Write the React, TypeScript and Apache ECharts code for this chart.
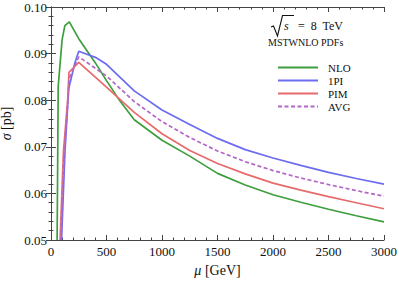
import React, { useEffect, useRef } from "react";
import * as echarts from "echarts";

// μ [GeV] sample points and σ [pb] values
const nloMu = [55, 65, 100, 125, 165, 250, 400, 500, 625, 750, 1000, 1250, 1500, 1750, 2000, 2250, 2500, 2750, 3000];
const nloVal = [0.05, 0.083, 0.093, 0.096, 0.0968, 0.0932, 0.088, 0.0842, 0.0797, 0.0758, 0.0714, 0.068, 0.0643, 0.0618, 0.0597, 0.0581, 0.0566, 0.0552, 0.0539];

const onePiMu = [95, 126, 160, 215, 250, 400, 500, 750, 1000, 1250, 1500, 1750, 2000, 2250, 2500, 2750, 3000];
const onePiVal = [0.05, 0.069, 0.0825, 0.088, 0.0905, 0.0892, 0.0877, 0.082, 0.0779, 0.0748, 0.0718, 0.0694, 0.0676, 0.066, 0.0645, 0.0632, 0.062];

const pimMu = [82, 112, 150, 162, 250, 500, 750, 1000, 1250, 1500, 1750, 2000, 2250, 2500, 2750, 3000];
const pimVal = [0.05, 0.069, 0.08, 0.086, 0.0881, 0.0828, 0.0774, 0.0728, 0.0692, 0.0664, 0.0642, 0.0622, 0.0607, 0.0593, 0.058, 0.0567];

const avgMu = [88, 119, 155, 162, 250, 500, 750, 1000, 1250, 1500, 1750, 2000, 2250, 2500, 2750, 3000];
const avgVal = [0.05, 0.069, 0.081, 0.0845, 0.0893, 0.0852, 0.0797, 0.0754, 0.072, 0.0691, 0.0668, 0.0649, 0.0633, 0.0619, 0.0606, 0.0594];

const seriesNames = ["NLO", "1PI", "PIM", "AVG"];
const seriesColors = ["#3d9e3d", "#6c6cf0", "#e86a6c", "#b466c8"];

const xMin = 0, xMax = 3000, xStep = 500;
const yMin = 0.05, yMax = 0.1, yStep = 0.01;

const pairs = (xs: number[], ys: number[]) => xs.map((x, i) => [x, ys[i]]);

const SERIF = "Liberation Serif";
const FRAME = "#444";

export default function App() {
  const ref = useRef<HTMLDivElement>(null);
  useEffect(() => {
    document.body.style.margin = "0";
    const chart = echarts.init(ref.current!, null, { renderer: "svg" });
    const data = [pairs(nloMu, nloVal), pairs(onePiMu, onePiVal), pairs(pimMu, pimVal), pairs(avgMu, avgVal)];
    const baseAxis = {
      axisLine: { show: true, lineStyle: { color: FRAME, width: 1 } },
      axisTick: { show: true, inside: true, length: 5, lineStyle: { color: FRAME } },
      minorTick: { show: true, splitNumber: 5, length: 2.5, lineStyle: { color: FRAME } },
      splitLine: { show: false },
    };
    chart.setOption({
      animation: false,
      textStyle: { fontFamily: SERIF },
      grid: { left: 51, right: 15, top: 7, bottom: 41, containLabel: false, outerBoundsMode: "none" },
      xAxis: [
        {
          ...baseAxis,
          type: "value", min: xMin, max: xMax, interval: xStep, position: "bottom",
          axisLabel: { color: "#111", fontFamily: SERIF, fontSize: 13, margin: 5, formatter: (v: number) => String(v) },
          name: "{i|μ} [GeV]", nameLocation: "middle", nameGap: 23,
          nameTextStyle: {
            color: "#111", fontFamily: SERIF, fontSize: 14,
            rich: { i: { fontStyle: "italic", fontFamily: SERIF, fontSize: 14, color: "#111" } },
          },
        },
        {
          ...baseAxis,
          type: "value", min: xMin, max: xMax, interval: xStep, position: "top",
          axisLabel: { show: false },
        },
      ],
      yAxis: [
        {
          ...baseAxis,
          type: "value", min: yMin, max: yMax, interval: yStep, position: "left",
          axisLabel: { color: "#111", fontFamily: SERIF, fontSize: 13, margin: 4, formatter: (v: number) => v.toFixed(2) },
          name: "{i|σ} [pb]", nameLocation: "middle", nameGap: 34,
          nameTextStyle: {
            color: "#111", fontFamily: SERIF, fontSize: 14,
            rich: { i: { fontStyle: "italic", fontFamily: SERIF, fontSize: 14, color: "#111" } },
          },
        },
        {
          ...baseAxis,
          type: "value", min: yMin, max: yMax, interval: yStep, position: "right",
          axisLabel: { show: false },
        },
      ],
      legend: {
        orient: "vertical", left: 272, top: 57, itemWidth: 40, itemHeight: 10, itemGap: 2,
        data: seriesNames,
        itemStyle: { opacity: 0 },
        textStyle: { fontFamily: SERIF, fontSize: 11, color: "#111", padding: [0, 0, 0, 5] },
      },
      graphic: [
        { type: "polyline", shape: { points: [[271, 27], [273.5, 26], [277.5, 36], [282.5, 15.5], [294, 15.5]] }, style: { stroke: "#111", lineWidth: 1.1, fill: null } },
        { type: "text", left: 284, top: 20, style: { text: "s", font: `italic 12px ${SERIF}`, fill: "#111" } },
        { type: "text", left: 298, top: 20, style: { text: "=  8  TeV", font: `12px ${SERIF}`, fill: "#111" } },
        { type: "text", left: 268, top: 37, style: { text: "MSTWNLO PDFs", font: `10px ${SERIF}`, fill: "#111" } },
      ],
      series: seriesNames.map((name, i) => ({
        name, type: "line", data: data[i], showSymbol: false, symbol: "none", clip: true,
        xAxisIndex: 0, yAxisIndex: 0,
        lineStyle: { color: seriesColors[i], width: 1.7, type: i === 3 ? [4, 2.5] : "solid" },
        itemStyle: { color: seriesColors[i] },
      })),
    });
    return () => chart.dispose();
  }, []);
  return <div ref={ref} style={{ width: 399, height: 281 }} />;
}
